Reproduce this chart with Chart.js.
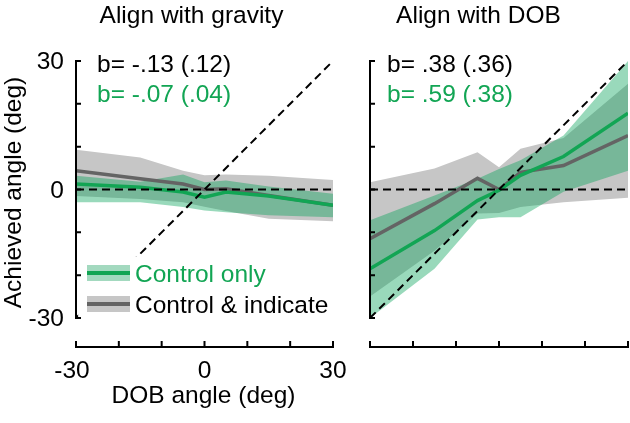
<!DOCTYPE html>
<html>
<head>
<meta charset="utf-8">
<script src="https://cdn.jsdelivr.net/npm/chart.js@4/dist/chart.umd.min.js"></script>
<style>
  html, body { margin: 0; padding: 0; background: #fff; }
  #wrap { position: relative; width: 630px; height: 423px; }
  #wrap canvas { position: absolute; left: 0; top: 0; }
</style>
</head>
<body>
<div id="wrap">
  <canvas id="gravityChart" width="630" height="423"></canvas>
  <canvas id="dobChart" width="630" height="423"></canvas>
</div>
<script>
// --- data ---
const dobAngles = [-30, -15, -5, 0, 5, 15, 30];
const axisTicks = [-30, -20, -10, 0, 10, 20, 30];
const labelledTicks = [-30, 0, 30];
const refX = [-30, 30];
const zeroY = [0, 0];
const identityY = [-30, 30];

// Align with gravity
const gravIndicateMean = [4.4, 2.5, 1.3, 0, 0.2, -1.4, -3.7];
const gravIndicateLow  = [-1.5, -2.2, -3, -4, -5, -6.8, -7.4];
const gravIndicateHigh = [9.3, 7.5, 4.4, 3.3, 3.5, 3.2, 2.2];
const gravControlMean  = [1.3, 0.5, -0.6, -1.8, -0.6, -1.5, -3.7];
const gravControlLow   = [-3, -3, -4.1, -4.9, -5.3, -6, -6.5];
const gravControlHigh  = [3.2, 1.8, 3.5, 1.7, 2.1, 0.7, -1];

// Align with DOB
const dobIndicateMean = [-11.5, -3.3, 2.6, 0, 4.0, 5.6, 12.6];
const dobIndicateLow  = [-25, -14.3, -5.6, -5.5, -4.1, -3, -1.9];
const dobIndicateHigh = [1.7, 4.9, 8.7, 5.2, 9.5, 12, 24.7];
const dobControlMean  = [-18.5, -9.6, -2.6, -0.2, 3.3, 7.7, 17.8];
const dobControlLow   = [-30, -18.5, -7, -6.5, -6.5, -0.5, 4.4];
const dobControlHigh  = [-7.2, -1.4, 2.5, 4.8, 6.8, 12.6, 30];

const gravityStats = ['b= -.13 (.12)', 'b= -.07 (.04)'];
const dobStats = ['b= .38 (.36)', 'b= .59 (.38)'];
const legendLabels = ['Control only', 'Control & indicate'];

// --- styles ---
const GREEN = '#12a554';
const GREEN_BAND = 'rgba(0, 160, 84, 0.4)';
const GREEN_SWATCH = '#a3d9bf';
const GRAY_LINE = '#646464';
const GRAY_BAND = '#c6c6c6';
const FONT = '24.5px "Liberation Sans", Arial, sans-serif';

const toPoints = (xs, ys) => xs.map((x, i) => ({ x: x, y: ys[i] }));

function buildDatasets(indMean, indLow, indHigh, ctlMean, ctlLow, ctlHigh) {
    const band = { borderWidth: 0, borderColor: 'transparent', pointRadius: 0, tension: 0 };
    const line = { pointRadius: 0, tension: 0, fill: false };
    return [
        { ...band, data: toPoints(dobAngles, indHigh), fill: '+1', backgroundColor: GRAY_BAND, order: 10 },
        { ...band, data: toPoints(dobAngles, indLow), fill: false, order: 9 },
        { ...band, data: toPoints(dobAngles, ctlHigh), fill: '+1', backgroundColor: GREEN_BAND, order: 8 },
        { ...band, data: toPoints(dobAngles, ctlLow), fill: false, order: 7 },
        { ...line, data: toPoints(dobAngles, indMean), borderColor: GRAY_LINE, borderWidth: 3.5, order: 6 },
        { ...line, data: toPoints(dobAngles, ctlMean), borderColor: GREEN, borderWidth: 3.5, order: 5 },
        { ...line, data: toPoints(refX, zeroY), borderColor: '#000', borderWidth: 2, borderDash: [8, 5], order: 4 },
        { ...line, data: toPoints(refX, identityY), borderColor: '#000', borderWidth: 2, borderDash: [8, 5], order: 3 }
    ];
}

function decorPlugin(panel) {
    return {
        id: 'decor',
        afterDatasetsDraw(chart) {
            const ctx = chart.ctx;
            const xs = chart.scales.x, ys = chart.scales.y;
            ctx.save();

            // legend (white box hides the diagonal behind it)
            if (panel.legend) {
                ctx.fillStyle = '#fff';
                ctx.fillRect(xs.getPixelForValue(-29.5), 257, 254, 60);
                const rows = [
                    { cy: 273, band: GREEN_SWATCH, line: GREEN, text: GREEN, label: legendLabels[0] },
                    { cy: 304, band: GRAY_BAND, line: GRAY_LINE, text: '#000', label: legendLabels[1] }
                ];
                rows.forEach(r => {
                    ctx.fillStyle = r.band;
                    ctx.fillRect(87, r.cy - 8, 43, 16);
                    ctx.fillStyle = r.line;
                    ctx.fillRect(87, r.cy - 2, 43, 4);
                    ctx.font = FONT;
                    ctx.fillStyle = r.text;
                    ctx.textAlign = 'left';
                    ctx.textBaseline = 'alphabetic';
                    ctx.fillText(r.label, 135, r.cy + 8.5);
                });
            }

            // axes: y axis with inward ticks, x axis offset below
            const x0 = xs.getPixelForValue(-30), x1 = xs.getPixelForValue(30);
            const yTop = ys.getPixelForValue(30), yBot = ys.getPixelForValue(-30);
            const xAxisY = yBot + 29;
            ctx.strokeStyle = '#000';
            ctx.lineWidth = 2;
            ctx.beginPath();
            ctx.moveTo(x0, yTop - 1); ctx.lineTo(x0, yBot + 1);
            ctx.moveTo(x0 - 1, xAxisY); ctx.lineTo(x1 + 1, xAxisY);
            axisTicks.forEach(t => {
                const py = ys.getPixelForValue(t);
                ctx.moveTo(x0, py); ctx.lineTo(x0 + 5, py);
                const px = xs.getPixelForValue(t);
                ctx.moveTo(px, xAxisY); ctx.lineTo(px, xAxisY - 6);
            });
            ctx.stroke();

            ctx.font = FONT;
            ctx.fillStyle = '#000';
            if (panel.tickLabels) {
                labelledTicks.forEach(t => {
                    ctx.textAlign = 'right';
                    ctx.textBaseline = 'alphabetic';
                    ctx.fillText(String(t), x0 - 12, ys.getPixelForValue(t) + 8);
                    ctx.textAlign = 'center';
                    const off = t < 0 ? -4 : 0;
                    ctx.fillText(String(t), xs.getPixelForValue(t) + off, xAxisY + 31);
                });
                ctx.textAlign = 'center';
                ctx.fillText('DOB angle (deg)', 203.5, 403);
                ctx.save();
                ctx.translate(21, 192.5);
                ctx.rotate(-Math.PI / 2);
                ctx.fillText('Achieved angle (deg)', 0, 0);
                ctx.restore();
            }

            // panel title and slope stats
            ctx.textAlign = 'center';
            ctx.fillText(panel.title, panel.titleX, 23);
            ctx.textAlign = 'left';
            ctx.fillStyle = '#000';
            ctx.fillText(panel.stats[0], panel.statsX, 72);
            ctx.fillStyle = GREEN;
            ctx.fillText(panel.stats[1], panel.statsX, 102);

            ctx.restore();
        }
    };
}

function makePanel(canvasId, padding, datasets, panel) {
    return new Chart(document.getElementById(canvasId), {
        type: 'line',
        data: { datasets: datasets },
        options: {
            responsive: false,
            animation: false,
            layout: { padding: padding },
            plugins: { legend: { display: false }, tooltip: { enabled: false }, title: { display: false } },
            scales: {
                x: { type: 'linear', min: -30, max: 30, display: false },
                y: { type: 'linear', min: -30, max: 30, display: false }
            }
        },
        plugins: [decorPlugin(panel)]
    });
}

makePanel('gravityChart', { left: 76, right: 297, top: 61, bottom: 105 },
    buildDatasets(gravIndicateMean, gravIndicateLow, gravIndicateHigh, gravControlMean, gravControlLow, gravControlHigh),
    { title: 'Align with gravity', titleX: 191.5, stats: gravityStats, statsX: 97, legend: true, tickLabels: true });

makePanel('dobChart', { left: 370, right: 2, top: 61, bottom: 105 },
    buildDatasets(dobIndicateMean, dobIndicateLow, dobIndicateHigh, dobControlMean, dobControlLow, dobControlHigh),
    { title: 'Align with DOB', titleX: 478.5, stats: dobStats, statsX: 387, legend: false, tickLabels: false });
</script>
</body>
</html>
